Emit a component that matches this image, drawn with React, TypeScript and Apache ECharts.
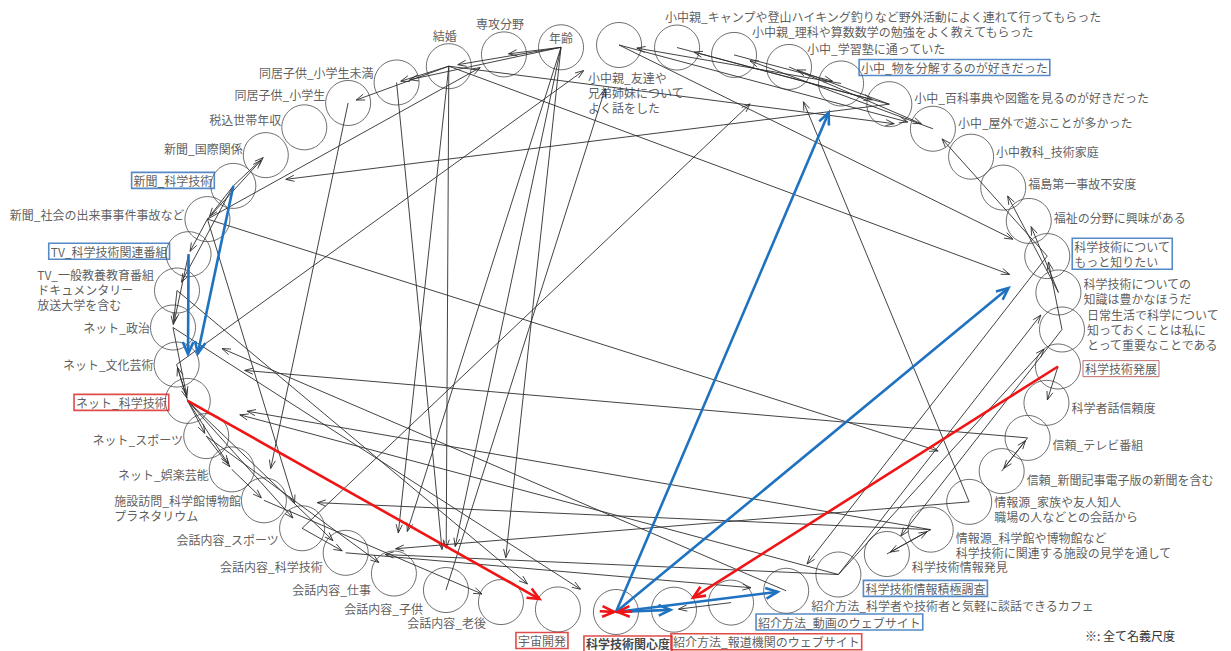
import React, { useEffect, useRef } from 'react';
import * as echarts from 'echarts';

// ---------- data ----------
const NODES: string[] = [
  '年齢',
  '小中親_友達や\n兄弟姉妹について\nよく話をした',
  '小中親_キャンプや登山ハイキング釣りなど野外活動によく連れて行ってもらった',
  '小中親_理科や算数数学の勉強をよく教えてもらった',
  '小中_学習塾に通っていた',
  '小中_物を分解するのが好きだった',
  '小中_百科事典や図鑑を見るのが好きだった',
  '小中_屋外で遊ぶことが多かった',
  '小中教科_技術家庭',
  '福島第一事故不安度',
  '福祉の分野に興味がある',
  '科学技術について\nもっと知りたい',
  '科学技術についての\n知識は豊かなほうだ',
  '日常生活で科学について\n知っておくことは私に\nとって重要なことである',
  '科学技術発展',
  '科学者話信頼度',
  '信頼_テレビ番組',
  '信頼_新聞記事電子版の新聞を含む',
  '情報源_家族や友人知人\n職場の人などとの会話から',
  '情報源_科学館や博物館など\n科学技術に関連する施設の見学を通して',
  '科学技術情報発見',
  '科学技術情報積極調査',
  '紹介方法_科学者や技術者と気軽に談話できるカフェ',
  '紹介方法_動画のウェブサイト',
  '紹介方法_報道機関のウェブサイト',
  '科学技術関心度',
  '宇宙開発',
  '会話内容_老後',
  '会話内容_子供',
  '会話内容_仕事',
  '会話内容_科学技術',
  '会話内容_スポーツ',
  '施設訪問_科学館博物館\nプラネタリウム',
  'ネット_娯楽芸能',
  'ネット_スポーツ',
  'ネット_科学技術',
  'ネット_文化芸術',
  'ネット_政治',
  'TV_一般教養教育番組\nドキュメンタリー\n放送大学を含む',
  'TV_科学技術関連番組',
  '新聞_社会の出来事事件事故など',
  '新聞_科学技術',
  '新聞_国際関係',
  '税込世帯年収',
  '同居子供_小学生',
  '同居子供_小学生未満',
  '結婚',
  '専攻分野',
];

// directed arcs [from, to] (node indices)
const EDGES: number[][] = [
  [0, 47], [0, 46], [0, 45], [46, 45], [46, 44], [40, 47],
  [46, 28], [45, 28], [0, 28], [0, 29], [0, 27], [46, 29], [44, 32], [40, 31],
  [31, 4], [28, 1], [18, 4], [6, 41], [46, 7], [1, 7], [46, 12], [1, 11], [40, 17],
  [16, 36], [37, 25], [19, 32], [18, 30], [21, 30], [30, 22], [21, 35], [19, 35],
  [11, 22], [21, 12], [21, 13], [13, 20], [36, 1], [22, 37], [38, 26], [32, 27],
  [5, 1], [6, 2], [7, 3], [6, 4], [2, 6], [3, 5], [4, 7], [11, 7], [12, 10], [13, 11], [12, 9],
  [14, 15], [16, 17], [17, 16], [19, 20], [20, 19], [23, 24],
  [41, 42], [40, 42], [41, 40], [40, 39], [41, 38], [38, 37], [36, 35], [37, 35], [39, 37], [35, 36],
  [35, 34], [34, 33], [35, 33], [33, 32], [35, 31], [35, 30], [34, 29], [31, 30],
];

const BLUE_EDGES: number[][] = [[39, 35], [41, 35], [25, 5], [25, 11], [25, 24], [25, 22]];
const RED_EDGES: number[][] = [[35, 26], [14, 24], [26, 25], [24, 25]];

const BLUE_BOX: number[] = [5, 11, 21, 23, 39, 41];
const RED_BOX: number[] = [14, 24, 25, 26, 35];
const NOTE = '※: 全て名義尺度';

// ---------- layout / style ----------
const CX = 617.5, CY = 328.5, RX = 444.5, RY = 283.5;
const START_DEG = -97.3;
const FONT = 'Noto Sans CJK JP';
const LINE_H = 15;
const BLACK_REACH = 0.92;
const BLUE_REACH = [0.68, 0.78, 0.945, 0.91, 0.94, 0.95];
const RED_REACH = [0.95, 0.95, 0.97, 0.97];
const RED_FROM = [0, 0, 0.72, 0.72];
const EDGE_STYLE = [
  { color: '#2e2e2e', width: 0.9, len: 9, head: 20 },
  { color: '#1f72c0', width: 2.6, len: 13, head: 24 },
  { color: '#f01414', width: 2.6, len: 13, head: 24 },
];
// hand-placed label exceptions (crowded spots)
const LABEL_FIX: Record<number, { dx?: number; dy: number; align?: string }> = {
  0: { dx: 0, dy: -10, align: 'center' },
  1: { dx: -31, dy: 47, align: 'left' },
  2: { dx: -12, dy: -31, align: 'left' },
  3: { dy: -23 },
  4: { dy: -18 },
  18: { dy: 7 },
  19: { dy: 15 },
};

function measure(text: string): number {
  const t = new echarts.graphic.Text({ style: { text, font: `12px "${FONT}"`, lineHeight: LINE_H } as any });
  return t.getBoundingRect().width;
}

function placeLabel(i: number, c: number, s: number, text: string) {
  const w = measure(text);
  let dx = 0, dy = 0, align = 'left';
  if (s < 0) {
    if (c < 0 && c > -0.45) { dx = -4; dy = -31; align = 'center'; }
    else if (c <= -0.45) { dx = -23 - w; dy = 11 * s; }
    else if (c < 0.55) { dx = 18; dy = c > 0.45 ? -16 : -20; }
    else { dx = 25; dy = 9 * s; }
  } else {
    if (c > 0.15) { dx = 25; dy = 16 * s + (c < 0.3 ? 4 : 0); }
    else if (c > 0.05) { dx = -3; dy = 32; }
    else if (c > -0.05) { dx = 12; dy = 32; align = 'center'; }
    else if (c > -0.15) { dx = 6 - w; dy = 31; }
    else { dx = (c > -0.3 ? -15 : -23) - w; dy = 22 * s * s; }
  }
  const fix = LABEL_FIX[i];
  if (fix) {
    if (fix.dx !== undefined) dx = fix.dx;
    dy = fix.dy;
    if (fix.align) align = fix.align;
  }
  return { dx, dy, align };
}

export default function App() {
  const ref = useRef<HTMLDivElement>(null);
  useEffect(() => {
    if (!ref.current) return;
    const chart = echarts.init(ref.current, undefined, { renderer: 'svg' });
    const N = NODES.length;
    const pos = NODES.map((_, i) => {
      const t = ((START_DEG + (i * 360) / N) * Math.PI) / 180;
      return [Math.cos(t), Math.sin(t)];
    });

    const nodeData = NODES.map((name, i) => {
      const [c, s] = pos[i];
      const p = placeLabel(i, c, s, name);
      const boxed = BLUE_BOX.includes(i) ? '#2a6db8' : RED_BOX.includes(i) ? (i === 14 ? '#b04848' : '#d81e1e') : undefined;
      return {
        name,
        value: pos[i],
        label: {
          align: p.align,
          offset: [p.dx, p.dy],
          borderColor: boxed,
          borderWidth: boxed ? (i === 14 ? 1 : 1.6) : 0,
          padding: boxed ? [1, 2, 0, 2] : 0,
          fontWeight: i === 25 ? 'bold' : 'normal',
          color: i === 25 ? '#111' : '#333',
        },
      };
    });

    const edgeData: number[][] = [];
    EDGES.forEach(([a, b]) => edgeData.push([...pos[a], ...pos[b], 0, BLACK_REACH, 0]));
    BLUE_EDGES.forEach(([a, b], k) => edgeData.push([...pos[a], ...pos[b], 1, BLUE_REACH[k], 0]));
    RED_EDGES.forEach(([a, b], k) => edgeData.push([...pos[a], ...pos[b], 2, RED_REACH[k], RED_FROM[k]]));

    const renderEdge = (_params: any, api: any) => {
      const a = api.coord([api.value(0), api.value(1)]);
      const b = api.coord([api.value(2), api.value(3)]);
      const st = EDGE_STYLE[api.value(4)];
      const reach = api.value(5);
      const from = api.value(6);
      const dx = b[0] - a[0], dy = b[1] - a[1];
      const len = Math.hypot(dx, dy) || 1;
      const ux = dx / len, uy = dy / len;
      const sx = a[0] + dx * from, sy = a[1] + dy * from;
      const tx = a[0] + dx * reach, ty = a[1] + dy * reach;
      const ang = (st.head * Math.PI) / 180;
      const co = Math.cos(ang), si = Math.sin(ang);
      const bx = -ux, by = -uy;
      const p1 = [tx + st.len * (bx * co - by * si), ty + st.len * (bx * si + by * co)];
      const p2 = [tx + st.len * (bx * co + by * si), ty + st.len * (-bx * si + by * co)];
      return {
        type: 'group',
        children: [
          { type: 'line', shape: { x1: sx, y1: sy, x2: tx, y2: ty }, style: { stroke: st.color, lineWidth: st.width } },
          { type: 'polyline', shape: { points: [p1, [tx, ty], p2] }, style: { stroke: st.color, lineWidth: st.width, fill: 'none' } },
        ],
      };
    };

    chart.setOption({
      animation: false,
      backgroundColor: '#ffffff',
      grid: { left: CX - RX, top: CY - RY, width: 2 * RX, height: 2 * RY, containLabel: false },
      xAxis: { type: 'value', min: -1, max: 1, show: false },
      yAxis: { type: 'value', min: -1, max: 1, inverse: true, show: false },
      graphic: [
        { type: 'text', left: 1085, top: 629, style: { text: NOTE, fontSize: 12, fontFamily: FONT, fill: '#333' } },
      ],
      series: [
        {
          type: 'scatter',
          silent: true,
          data: nodeData,
          symbol: 'circle',
          symbolSize: 45,
          itemStyle: { color: 'rgba(255,255,255,0)', borderColor: '#4a4a4a', borderWidth: 1 },
          label: {
            show: true,
            formatter: '{b}',
            position: 'inside',
            verticalAlign: 'middle',
            fontSize: 12,
            fontFamily: FONT,
            lineHeight: LINE_H,
            color: '#333',
            textBorderWidth: 0,
          },
          z: 2,
        },
        {
          type: 'custom',
          silent: true,
          clip: false,
          encode: { x: [0, 2], y: [1, 3] },
          data: edgeData,
          renderItem: renderEdge,
          z: 3,
        },
      ],
    });
    return () => chart.dispose();
  }, []);
  return <div ref={ref} style={{ position: 'fixed', left: 0, top: 0, width: 1231, height: 651, background: '#fff' }} />;
}
